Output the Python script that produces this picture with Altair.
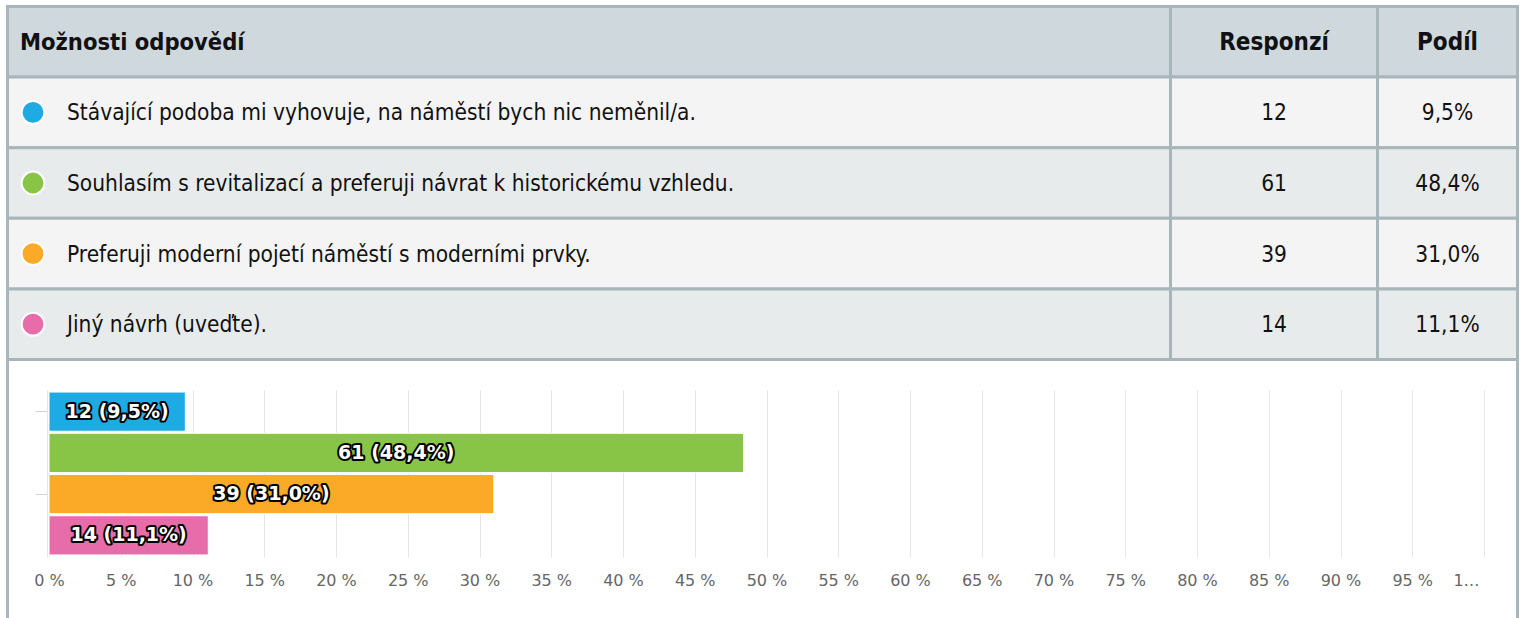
import altair as alt
import pandas as pd

# ---- data ----
options = [
    "Stávající podoba mi vyhovuje, na náměstí bych nic neměnil/a.",
    "Souhlasím s revitalizací a preferuji návrat k historickému vzhledu.",
    "Preferuji moderní pojetí náměstí s moderními prvky.",
    "Jiný návrh (uveďte).",
]
counts = [12, 61, 39, 14]
shares = [9.5, 48.4, 31.0, 11.1]
colors = ["#1eaae2", "#88c446", "#fbaa27", "#e66daa"]
headers = ["Možnosti odpovědí", "Responzí", "Podíl"]
x_ticks = list(range(0, 101, 5))

# ---- layout / style constants ----
COL_EDGES = [7.5, 1170.5, 1377.5, 1517.5]
ROW_KEYS = ["h", "r1", "r2", "r3", "r4"]
ROW_FILLS = ["#cfd8dc", "#f4f4f4", "#e8ebec", "#f4f4f4", "#e8ebec"]
BORDER = "#a8b6bb"
TFONT = "DejaVu Sans Condensed"


def cz(v):
    return f"{v:.1f}".replace(".", ",")


# table cells
cells = []
for ri, rk in enumerate(ROW_KEYS):
    for ci in range(3):
        cells.append({"row": rk, "x0": COL_EDGES[ci], "x1": COL_EDGES[ci + 1], "fill": ROW_FILLS[ri]})
cells_df = pd.DataFrame(cells)

head_df = pd.DataFrame({
    "row": ["h"] * 3,
    "text": headers,
    "x": [20, (COL_EDGES[1] + COL_EDGES[2]) / 2, (COL_EDGES[2] + COL_EDGES[3]) / 2],
    "align": ["left", "center", "center"],
})

rows_df = pd.DataFrame({
    "row": ROW_KEYS[1:],
    "option": options,
    "count": [str(c) for c in counts],
    "share": [cz(s) + "%" for s in shares],
    "color": colors,
})

yrow = alt.Y("row:N", sort=ROW_KEYS, axis=None,
             scale=alt.Scale(domain=ROW_KEYS, range=[6.5, 359.5], paddingInner=0, paddingOuter=0))

cell_layer = alt.Chart(cells_df).mark_rect(stroke=BORDER, strokeWidth=3).encode(
    x=alt.X("x0:Q", scale=None), x2="x1:Q", y=yrow, fill=alt.Fill("fill:N", scale=None)
)

head_left = alt.Chart(head_df[head_df["align"] == "left"]).mark_text(
    align="left", baseline="middle", font=TFONT, fontSize=23.5, fontWeight="bold", color="#111111", dy=1
).encode(x=alt.X("x:Q", scale=None), y=yrow, text="text:N")
head_center = alt.Chart(head_df[head_df["align"] == "center"]).mark_text(
    align="center", baseline="middle", font=TFONT, fontSize=24, fontWeight="bold", color="#111111", dy=1
).encode(x=alt.X("x:Q", scale=None), y=yrow, text="text:N")

dots = alt.Chart(rows_df).mark_point(
    shape="circle", filled=True, size=520, stroke="white", strokeWidth=2, opacity=1
).encode(x=alt.value(33), y=yrow, fill=alt.Fill("color:N", scale=None))

opt_text = alt.Chart(rows_df).mark_text(
    align="left", baseline="middle", font=TFONT, fontSize=22.5, color="#111111", dy=1
).encode(x=alt.value(67), y=yrow, text="option:N")
cnt_text = alt.Chart(rows_df).mark_text(
    align="center", baseline="middle", font=TFONT, fontSize=22.5, color="#111111", dy=1
).encode(x=alt.value((COL_EDGES[1] + COL_EDGES[2]) / 2), y=yrow, text="count:N")
shr_text = alt.Chart(rows_df).mark_text(
    align="center", baseline="middle", font=TFONT, fontSize=22.5, color="#111111", dy=1
).encode(x=alt.value((COL_EDGES[2] + COL_EDGES[3]) / 2), y=yrow, text="share:N")

table = alt.layer(cell_layer, head_left, head_center, dots, opt_text, cnt_text, shr_text).properties(
    width=1520, height=362
)

# ---- bar chart ----
bars_df = pd.DataFrame({
    "option": options,
    "share": shares,
    "mid": [s / 2 for s in shares],
    "label": [f"{c} ({cz(s)}%)" for c, s in zip(counts, shares)],
})

xscale = alt.Scale(domain=[0, 100], range=[49, 1484])
ybar = alt.Y("option:N", sort=options,
             scale=alt.Scale(domain=options, paddingInner=0.05, paddingOuter=0.05),
             axis=alt.Axis(labels=False, title=None, domain=True, domainColor="#e6e6e6",
                           offset=-47, tickSize=12, tickColor="#ccd6eb", tickWidth=1,
                           values=[options[0], options[2]], grid=False))

bars = alt.Chart(bars_df).mark_bar(stroke="white", strokeWidth=1).encode(
    x=alt.X("share:Q", scale=xscale,
            axis=alt.Axis(values=x_ticks, title=None, domain=False, ticks=False,
                          grid=True, gridColor="#e6e6e6", gridWidth=1,
                          labelFont="DejaVu Sans", labelFontSize=16, labelColor="#666666",
                          labelFlush=False, labelOverlap=False,
                          labelPadding=15,
                          labelOffset={"condition": {"test": "datum.value == 100", "value": -18}, "value": 0},
                          labelExpr="datum.value == 100 ? '1…' : datum.value + ' %'")),
    x2=alt.datum(0),
    y=ybar,
    color=alt.Color("option:N", scale=alt.Scale(domain=options, range=colors), legend=None),
)

lab_outline = alt.Chart(bars_df).mark_text(
    font="DejaVu Sans", fontSize=19, fontWeight="bold", fill="black", stroke="black",
    strokeWidth=4, strokeJoin="round", baseline="middle", align="center"
).encode(x=alt.X("mid:Q", scale=xscale), y=alt.Y("option:N", sort=options), text="label:N")
lab_fill = alt.Chart(bars_df).mark_text(
    font="DejaVu Sans", fontSize=19, fontWeight="bold", fill="white",
    baseline="middle", align="center"
).encode(x=alt.X("mid:Q", scale=xscale), y=alt.Y("option:N", sort=options), text="label:N")

one = alt.Data(values=[{"k": 1}])
left_border = alt.Chart(one).mark_rule(color=BORDER, strokeWidth=3).encode(
    x=alt.value(7.5), y=alt.value(-31), y2=alt.value(228))
right_border = alt.Chart(one).mark_rule(color=BORDER, strokeWidth=3).encode(
    x=alt.value(1517.5), y=alt.value(-31), y2=alt.value(228))

barchart = alt.layer(bars, lab_outline, lab_fill, left_border, right_border).properties(
    width=1520, height=167
)

chart = alt.vconcat(table, barchart, spacing=28, bounds="flush").properties(
    padding={"left": 0, "top": 0, "right": 0, "bottom": 0}, background="white"
).configure_view(stroke=None)

chart.save("out.html", embed_options={"renderer": "svg", "actions": False})
